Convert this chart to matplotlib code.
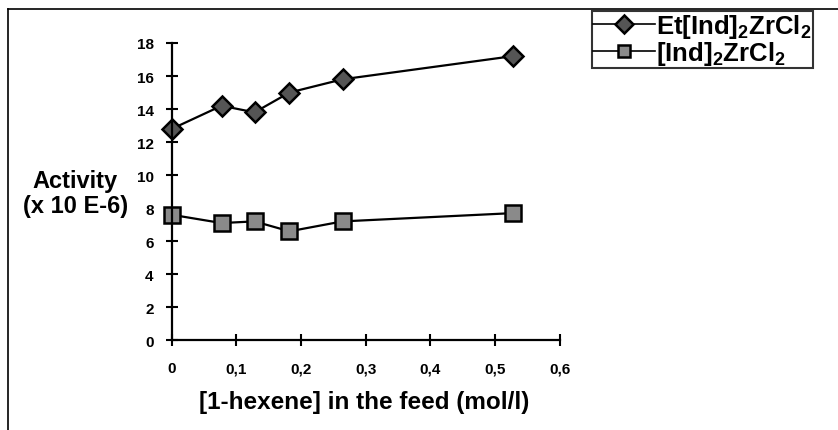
import matplotlib.pyplot as plt

plt.rcParams['font.family'] = ['Liberation Sans', 'DejaVu Sans']
plt.rcParams['mathtext.fontset'] = 'custom'
plt.rcParams['mathtext.rm'] = 'Liberation Sans'
plt.rcParams['mathtext.bf'] = 'Liberation Sans:bold'
plt.rcParams['mathtext.default'] = 'bf'

# data
conc = [0, 0.077, 0.128, 0.182, 0.264, 0.527]
act_et = [12.8, 14.2, 13.8, 15.0, 15.8, 17.2]
act_ind = [7.6, 7.1, 7.2, 6.6, 7.2, 7.7]
xticks = [0, 0.1, 0.2, 0.3, 0.4, 0.5, 0.6]
xticklabels = ['0', '0,1', '0,2', '0,3', '0,4', '0,5', '0,6']
yticks = [0, 2, 4, 6, 8, 10, 12, 14, 16, 18]

fig = plt.figure(figsize=(8.38, 4.31), dpi=100)
ax = fig.add_axes([0.205, 0.208, 0.463, 0.69])

ax.plot(conc, act_et, color='black', lw=1.6, marker='D', ms=10,
        mfc='#555555', mec='black', mew=1.8, label='Et[Ind]$_2$ZrCl$_2$', clip_on=False)
ax.plot(conc, act_ind, color='black', lw=1.6, marker='s', ms=12,
        mfc='#8a8a8a', mec='black', mew=1.8, label='[Ind]$_2$ZrCl$_2$', clip_on=False)

ax.set_xlim(0, 0.6)
ax.set_ylim(0, 18)
ax.set_xticks(xticks)
ax.set_xticklabels(xticklabels)
ax.set_yticks(yticks)
for s in ['top', 'right']:
    ax.spines[s].set_visible(False)
for s in ['left', 'bottom']:
    ax.spines[s].set_linewidth(1.6)
ax.tick_params(direction='inout', length=8, width=1.5)
ax.tick_params(axis='x', pad=11, labelsize=11)
ax.tick_params(axis='y', pad=9, labelsize=11)
for lab in ax.get_xticklabels() + ax.get_yticklabels():
    lab.set_fontweight('bold')

fig.text(0.09, 0.55, 'Activity\n(x 10 E-6)', fontsize=17, fontweight='bold',
         ha='center', va='center', linespacing=1.15)
fig.text(0.435, 0.067, '[1-hexene] in the feed (mol/l)', fontsize=17.5,
         fontweight='bold', ha='center', va='center')

# outer chart frame (top and left edges visible)
fig.add_artist(plt.Line2D([0.009, 0.009], [0, 0.977], color='black', lw=1.2,
                          transform=fig.transFigure))
fig.add_artist(plt.Line2D([0.009, 1.0], [0.977, 0.977], color='black', lw=1.2,
                          transform=fig.transFigure))

leg = fig.legend(loc='upper left', bbox_to_anchor=(0.706, 0.973), frameon=True,
                 fancybox=False, edgecolor='black', handlelength=2.4,
                 handletextpad=0.05, borderpad=0.05, labelspacing=-0.05,
                 borderaxespad=0, prop={'size': 18.5, 'weight': 'bold'})
leg.get_frame().set_linewidth(1.5)
for h in leg.legend_handles:
    h.set_markersize(9)
    h.set_linewidth(1.2)

fig.savefig('out.png', dpi=100)
